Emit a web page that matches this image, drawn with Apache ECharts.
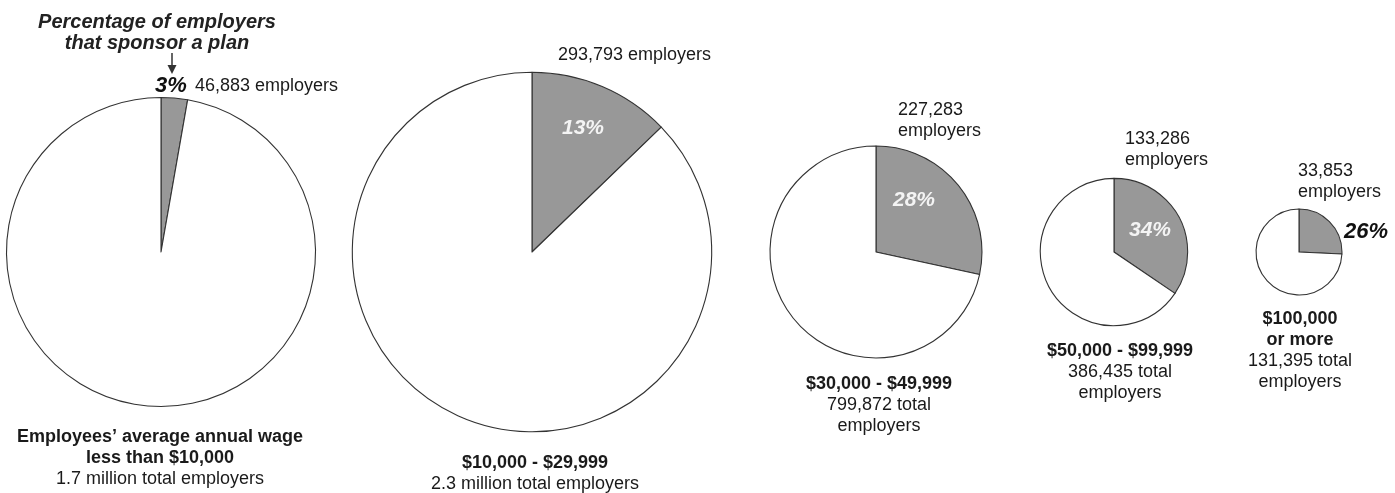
<!DOCTYPE html>
<html><head><meta charset="utf-8">
<script src="https://cdn.jsdelivr.net/npm/echarts@6/dist/echarts.min.js"></script>
<style>html,body{margin:0;padding:0;background:#fff}#c{width:1395px;height:493px}</style>
</head><body><div id="c"></div>
<script>
// ---- data ----
const wageLabels = [["Employees\u2019 average annual wage", "less than $10,000"], ["$10,000 - $29,999"], ["$30,000 - $49,999"], ["$50,000 - $99,999"], ["$100,000", "or more"]];
const totalLabels = [["1.7 million total employers"], ["2.3 million total employers"], ["799,872 total", "employers"], ["386,435 total", "employers"], ["131,395 total", "employers"]];
const totalEmployers = [1700000, 2300000, 799872, 386435, 131395];
const sponsorEmployers = [46883, 293793, 227283, 133286, 33853];
const sponsorPct = [3, 13, 28, 34, 26];
const titleLines = ["Percentage of employers", "that sponsor a plan"];

// ---- layout (positions/styles only) ----
const FONT = '"Liberation Sans", Arial, Helvetica, sans-serif';
const TXT = '#1a1a1a';
const cy = 252;
const cxs = [161, 532, 876, 1114, 1299];
const k = 0.1185; // radius per sqrt(employer)
const bottomY = [437, 463, 384, 351, 319];
const bottomX = [160, 535, 879, 1120, 1300];
const sponsorPos = [
  {x: 195, y: 86, wrap: false},
  {x: 558, y: 55, wrap: false},
  {x: 898, y: 110, wrap: true},
  {x: 1125, y: 139, wrap: true},
  {x: 1298, y: 171, wrap: true}
];
const pctPos = [
  {x: 171, y: 86, inside: false},
  {x: 583, y: 128, inside: true},
  {x: 914, y: 200, inside: true},
  {x: 1150, y: 230, inside: true},
  {x: 1366, y: 232, inside: false}
];
const LH = 21;

function fmt(n) { return n.toLocaleString('en-US'); }
function txt(x, y, s, font, align, fill) {
  return {type: 'text', x: x, y: y, z: 100, silent: true,
    style: {text: s, font: font, fill: fill || TXT, align: align, textAlign: align,
      verticalAlign: 'middle', textVerticalAlign: 'middle'}};
}

const series = totalEmployers.map((t, i) => ({
  type: 'pie',
  center: [cxs[i], cy],
  radius: k * Math.sqrt(t),
  startAngle: 90,
  clockwise: true,
  silent: true,
  animation: false,
  z: 1,
  label: {show: false},
  labelLine: {show: false},
  emphasis: {disabled: true},
  itemStyle: {borderColor: '#333', borderWidth: 1.1},
  data: [
    {name: 'Sponsor a plan', value: sponsorEmployers[i], itemStyle: {color: '#989898'}},
    {name: 'No plan', value: t - sponsorEmployers[i], itemStyle: {color: '#ffffff'}}
  ]
}));

const graphics = [];
// title
titleLines.forEach((s, j) => graphics.push(txt(157, 22 + j * LH, s, 'italic bold 20px ' + FONT, 'center', '#222')));
// arrow
graphics.push({type: 'line', z: 100, silent: true, shape: {x1: 172, y1: 53, x2: 172, y2: 66}, style: {stroke: '#333', lineWidth: 1.5}});
graphics.push({type: 'polygon', z: 100, silent: true, shape: {points: [[167.5, 65], [176.5, 65], [172, 74]]}, style: {fill: '#333'}});

sponsorEmployers.forEach((v, i) => {
  const p = sponsorPos[i];
  if (p.wrap) {
    graphics.push(txt(p.x, p.y, fmt(v), '18px ' + FONT, 'left'));
    graphics.push(txt(p.x, p.y + LH, 'employers', '18px ' + FONT, 'left'));
  } else {
    graphics.push(txt(p.x, p.y, fmt(v) + ' employers', '18px ' + FONT, 'left'));
  }
  const q = pctPos[i];
  if (q.inside) {
    graphics.push(txt(q.x, q.y, sponsorPct[i] + '%', 'italic bold 21px ' + FONT, 'center', '#f4f4f4'));
  } else {
    graphics.push(txt(q.x, q.y, sponsorPct[i] + '%', 'italic bold 22px ' + FONT, 'center', '#111'));
  }
  let y = bottomY[i];
  wageLabels[i].forEach(s => { graphics.push(txt(bottomX[i], y, s, 'bold 18px ' + FONT, 'center')); y += LH; });
  totalLabels[i].forEach(s => { graphics.push(txt(bottomX[i], y, s, '18px ' + FONT, 'center')); y += LH; });
});

const chart = echarts.init(document.getElementById('c'), null, {renderer: 'canvas'});
chart.setOption({
  backgroundColor: '#ffffff',
  animation: false,
  tooltip: {show: false},
  series: series,
  graphic: {z: 100, elements: graphics}
});
</script>
</body></html>
